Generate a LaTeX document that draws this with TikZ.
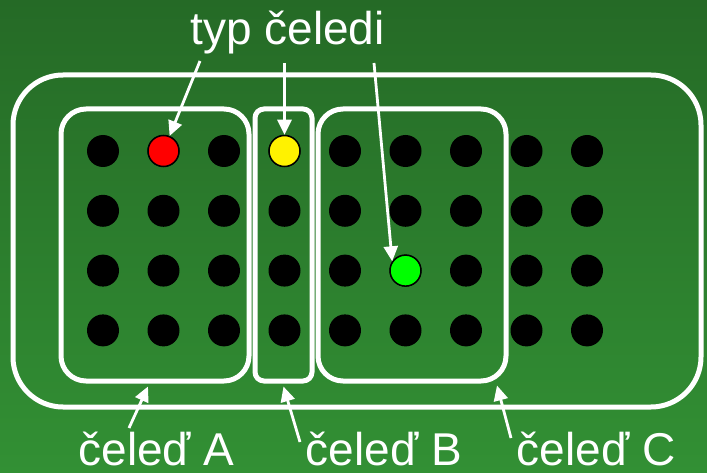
\documentclass[tikz,border=0pt]{standalone}
\usepackage{fontspec}
\setmainfont{Liberation Sans}
\usetikzlibrary{arrows.meta}

\definecolor{bgtop}{RGB}{37,106,38}
\definecolor{bgbot}{RGB}{50,144,52}

\begin{document}
\begin{tikzpicture}[x=1pt, y=-1pt,
		dot/.style={circle, fill=black, inner sep=0pt, minimum size=32pt},
		tdot/.style={circle, draw=black, line width=1.5pt, inner sep=0pt, minimum size=31pt},
		fam/.style={draw=white, line width=5pt, inner sep=0pt, rounded corners=#1},
		arr/.style={draw=white, line width=2.8pt, -{Triangle[length=15pt, width=14pt]}},
		lbl/.style={text=white, anchor=base, inner sep=0pt, font=\fontsize{46pt}{50pt}\selectfont}]
			\shade[top color=bgtop, bottom color=bgbot] (0, 0) rectangle (707, 473);
			\useasboundingbox (0, 0) rectangle (707, 473);
			
			\node[fam=50pt, minimum width=688pt, minimum height=332pt] (all) at (357, 241) {};
			\node[fam=25pt, minimum width=188pt, minimum height=272pt] (boxA) at (155, 245) {};
			\node[fam=9pt, minimum width=57pt, minimum height=272pt] (boxB) at (283.5, 245) {};
			\node[fam=25pt, minimum width=188pt, minimum height=272pt] (boxC) at (412, 245) {};
			
			\foreach \i in {1,...,9}
				\foreach \j in {1,...,4}
					\node[dot] (d-\i-\j) at ({103+60.5*(\i-1)}, {151+59.8*(\j-1)}) {};
			
			\node[tdot, fill=red] (red) at (d-2-1) {};
			\node[tdot, fill=yellow] (yellow) at (d-4-1) {};
			\node[tdot, fill=green] (green) at (d-6-3) {};
			
			\node[lbl] (typ) at (287.5, 45) {typ čeledi};
			\node[lbl] (lblA) at (156.5, 465) {čeleď A};
			\node[lbl] (lblB) at (384, 465) {čeleď B};
			\node[lbl] (lblC) at (596, 465) {čeleď C};
			
			\coordinate (t1) at (200, 61);
			\coordinate (t2) at (284.5, 63);
			\coordinate (t3) at (374, 63);
			\coordinate (tA) at (129, 428);
			\coordinate (tB) at (300, 442);
			\coordinate (tC) at (511, 438);
			
			\draw[arr] (t1) -- (red);
			\draw[arr] (t2) -- (yellow);
			\draw[arr] (t3) -- (green.145);
			\draw[arr] (tA) -- ([xshift=-7pt, yshift=-3pt]boxA.south);
			\draw[arr] (tB) -- ([yshift=-3pt]boxB.south);
			\draw[arr] (tC) -- ([xshift=85pt, yshift=-2pt]boxC.south);
		\end{tikzpicture}
\end{document}
